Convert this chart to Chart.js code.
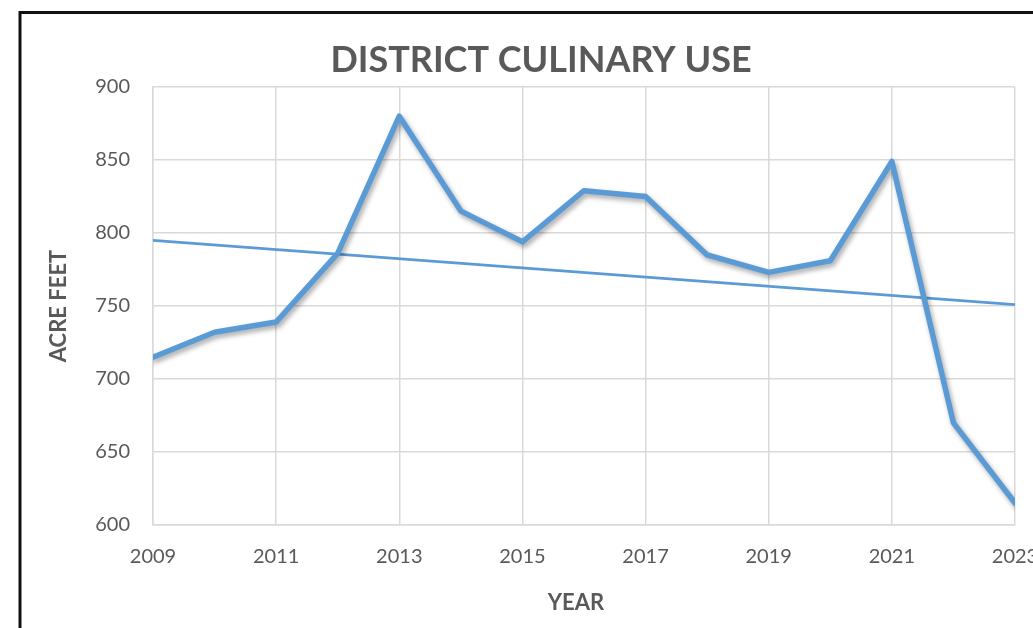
<!DOCTYPE html>
<html>
<head>
<meta charset="utf-8">
<script src="https://cdn.jsdelivr.net/npm/chart.js@4"></script>
<style>
  html, body { margin: 0; padding: 0; background: #ffffff; }
  #wrap { width: 1033px; height: 628px; position: relative; }
</style>
</head>
<body>
<div id="wrap"><canvas id="c" width="1033" height="628"></canvas></div>
<script>
const years = [2009, 2010, 2011, 2012, 2013, 2014, 2015, 2016, 2017, 2018, 2019, 2020, 2021, 2022, 2023];
const acreFeet = [715, 732, 739, 786, 880, 815, 794, 829, 825, 785, 773, 781, 849, 670, 615];
const trendYears = [2009, 2023];
const trendValues = [795, 751];
const titleText = 'DISTRICT CULINARY USE';
const xAxisTitle = 'YEAR';
const yAxisTitle = 'ACRE FEET';

const TEXT = '#595959';
const GRID = '#D9D9D9';
const BLUE = '#5B9BD5';
const FONT = 'Lato, "Open Sans", sans-serif';

const framePlugin = {
  id: 'frame',
  beforeDraw(chart) {
    const ctx = chart.ctx;
    ctx.save();
    ctx.fillStyle = '#ffffff';
    ctx.fillRect(0, 0, chart.width, chart.height);
    ctx.restore();
  },
  afterDraw(chart) {
    const ctx = chart.ctx;
    ctx.save();
    ctx.strokeStyle = '#111111';
    ctx.lineWidth = 3;
    ctx.beginPath();
    ctx.moveTo(20, chart.height + 5);
    ctx.lineTo(20, 12.5);
    ctx.lineTo(chart.width + 5, 12.5);
    ctx.stroke();
    ctx.fillStyle = TEXT;
    ctx.textAlign = 'center';
    ctx.textBaseline = 'middle';
    ctx.font = 'bold 36px ' + FONT;
    ctx.fillText(titleText, 541, 60);
    ctx.font = 'bold 22px ' + FONT;
    ctx.fillText(xAxisTitle, 576, 603);
    ctx.restore();
  }
};

const shadowPlugin = {
  id: 'lineShadow',
  beforeDatasetDraw(chart, args) {
    if (args.index !== 0) return;
    const ctx = chart.ctx;
    ctx.save();
    ctx.shadowColor = 'rgba(0,0,0,0.35)';
    ctx.shadowBlur = 5;
    ctx.shadowOffsetX = 2;
    ctx.shadowOffsetY = 3;
  },
  afterDatasetDraw(chart, args) {
    if (args.index !== 0) return;
    chart.ctx.restore();
  }
};

new Chart(document.getElementById('c'), {
  type: 'line',
  data: {
    datasets: [
      {
        label: 'Culinary use',
        data: years.map((y, i) => ({ x: y, y: acreFeet[i] })),
        borderColor: BLUE,
        borderWidth: 5.5,
        pointRadius: 0,
        tension: 0,
        fill: false,
        borderJoinStyle: 'round',
        borderCapStyle: 'round'
      },
      {
        label: 'Trend',
        data: trendYears.map((y, i) => ({ x: y, y: trendValues[i] })),
        borderColor: BLUE,
        borderWidth: 2.75,
        pointRadius: 0,
        tension: 0,
        fill: false
      }
    ]
  },
  options: {
    responsive: false,
    animation: false,
    events: [],
    layout: { padding: { top: 87, right: 18, bottom: 0, left: 0 } },
    plugins: {
      legend: { display: false },
      title: { display: false },
      tooltip: { enabled: false }
    },
    scales: {
      x: {
        type: 'linear',
        min: 2009,
        max: 2023,
        grid: { color: GRID, lineWidth: 1.5, drawTicks: false },
        border: { color: GRID, width: 1.5 },
        ticks: {
          stepSize: 2,
          padding: 20,
          color: TEXT,
          font: { family: FONT, size: 20 },
          maxRotation: 0,
          callback: (v) => String(v)
        },
        title: { display: false },
        afterFit(scale) {
          scale.height = 103;
          scale.paddingLeft = 0;
          scale.paddingRight = 0;
        }
      },
      y: {
        min: 600,
        max: 900,
        grid: { color: GRID, lineWidth: 1.5, drawTicks: false },
        border: { color: GRID, width: 1.5 },
        ticks: {
          stepSize: 50,
          padding: 23,
          color: TEXT,
          font: { family: FONT, size: 20 }
        },
        title: {
          display: true,
          text: yAxisTitle,
          color: TEXT,
          font: { family: FONT, size: 22, weight: 'bold' },
          padding: { top: 46, bottom: 0 }
        },
        afterFit(scale) {
          scale.width = 153;
          scale.paddingTop = 0;
          scale.paddingBottom = 0;
        }
      }
    }
  },
  plugins: [framePlugin, shadowPlugin]
});
</script>
</body>
</html>
